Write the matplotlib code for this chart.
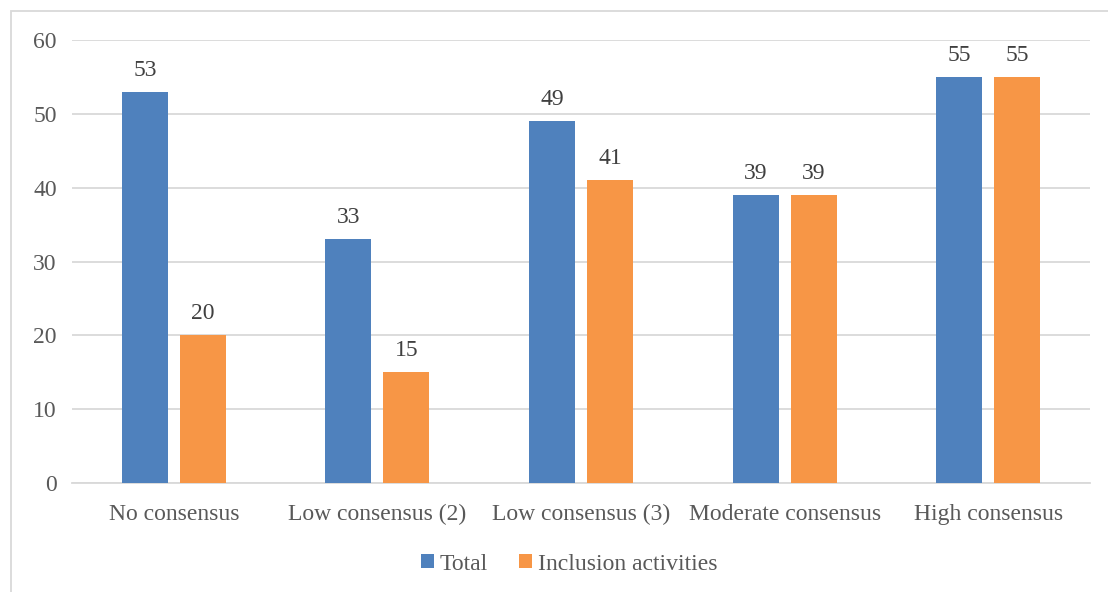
import matplotlib
matplotlib.use("Agg")
import matplotlib.pyplot as plt
from matplotlib.patches import Rectangle
import numpy as np

categories = ["No consensus", "Low consensus (2)", "Low consensus (3)",
              "Moderate consensus", "High consensus"]
total = [53, 33, 49, 39, 55]
inclusion = [20, 15, 41, 39, 55]
series_names = ["Total", "Inclusion activities"]
yticks = [0, 10, 20, 30, 40, 50, 60]

BLUE = "#4F81BD"
ORANGE = "#F79646"
TEXT = "#595959"
GRID = "#D9D9D9"
FS = 17

plt.rcParams["font.family"] = ["Liberation Serif", "DejaVu Serif"]

W, H = 1108, 592
fig = plt.figure(figsize=(W / 100, H / 100), dpi=100)

# outer chart frame
fig.patches.append(Rectangle((11 / W, -0.05), 1.1, 1 - 11 / H + 0.05,
                             transform=fig.transFigure, fill=False,
                             edgecolor=GRID, linewidth=1.3))

ax = fig.add_axes([72 / W, 1 - 483 / H, (1090 - 72) / W, (483 - 40) / H])

x = np.arange(len(categories))
bw = 0.226
off = 0.142
b1 = ax.bar(x - off, total, bw, color=BLUE, label=series_names[0], zorder=3)
b2 = ax.bar(x + off, inclusion, bw, color=ORANGE, label=series_names[1], zorder=3)

for bars in (b1, b2):
    for r in bars:
        ax.annotate(f"{r.get_height():g}", (r.get_x() + r.get_width() / 2, r.get_height()),
                    xytext=(0, 8), textcoords="offset points", ha="center", va="bottom",
                    fontsize=FS, color="#404040")

ax.set_xlim(-0.5, len(categories) - 0.5)
ax.set_ylim(0, 60)
ax.set_yticks(yticks)
ax.yaxis.grid(True, color=GRID, linewidth=1.3, zorder=0)
ax.set_axisbelow(True)
for s in ("top", "right", "left"):
    ax.spines[s].set_visible(False)
ax.spines["bottom"].set_color(GRID)
ax.spines["bottom"].set_linewidth(1.3)
ax.set_xticks(x)
ax.set_xticklabels(categories)
ax.tick_params(axis="both", length=0, labelsize=FS, labelcolor=TEXT)
ax.tick_params(axis="x", pad=15)
ax.tick_params(axis="y", pad=11)

leg = fig.legend(loc="center", bbox_to_anchor=(569 / W, 1 - 564 / H), ncol=2,
                 frameon=False, fontsize=FS, handlelength=0.55, handleheight=0.55,
                 handletextpad=0.25, columnspacing=1.3)
for t in leg.get_texts():
    t.set_color(TEXT)

fig.savefig("out.png", dpi=100)
